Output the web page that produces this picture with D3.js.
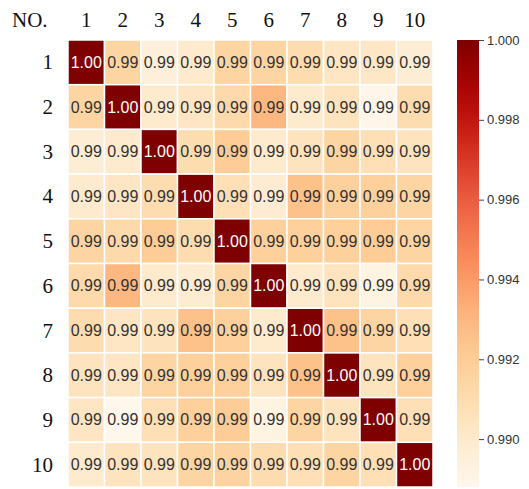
<!DOCTYPE html>
<html>
<head>
<meta charset="utf-8">
<script src="https://cdn.jsdelivr.net/npm/d3@7"></script>
<style>
  body { margin: 0; background: #fff; }
  svg { display: block; }
</style>
</head>
<body>
<script>
const labels = ['1', '2', '3', '4', '5', '6', '7', '8', '9', '10']

// correlation values, row by row
const row1 = [1.0000, 0.9915, 0.9895, 0.9900, 0.9915, 0.9915, 0.9910, 0.9903, 0.9902, 0.9897]
const row2 = [0.9915, 1.0000, 0.9900, 0.9903, 0.9912, 0.9930, 0.9900, 0.9905, 0.9889, 0.9910]
const row3 = [0.9897, 0.9900, 1.0000, 0.9910, 0.9920, 0.9900, 0.9905, 0.9915, 0.9908, 0.9905]
const row4 = [0.9900, 0.9903, 0.9910, 1.0000, 0.9908, 0.9898, 0.9926, 0.9918, 0.9918, 0.9915]
const row5 = [0.9915, 0.9912, 0.9920, 0.9910, 1.0000, 0.9918, 0.9918, 0.9918, 0.9920, 0.9915]
const row6 = [0.9912, 0.9930, 0.9900, 0.9898, 0.9915, 1.0000, 0.9900, 0.9905, 0.9892, 0.9912]
const row7 = [0.9910, 0.9903, 0.9905, 0.9926, 0.9918, 0.9900, 1.0000, 0.9926, 0.9915, 0.9908]
const row8 = [0.9905, 0.9903, 0.9915, 0.9918, 0.9918, 0.9905, 0.9926, 1.0000, 0.9905, 0.9918]
const row9 = [0.9903, 0.9888, 0.9908, 0.9918, 0.9920, 0.9892, 0.9915, 0.9905, 1.0000, 0.9908]
const row10 = [0.9900, 0.9905, 0.9905, 0.9915, 0.9916, 0.9910, 0.9908, 0.9915, 0.9908, 1.0000]
const rows = [row1, row2, row3, row4, row5, row6, row7, row8, row9, row10]

const cbarTicks = [0.990, 0.992, 0.994, 0.996, 0.998, 1.000]

const W = 529, H = 489
const grid = { left: 68, top: 40, right: 433, bottom: 487 }
const cbar = { left: 457, width: 22 }

const cells = rows.flatMap((r, i) => r.map((v, j) => ({ row: labels[i], col: labels[j], v })))
const vmin = d3.min(cells, d => d.v)
const vmax = d3.max(cells, d => d.v)

const color = d3.scaleSequential(d3.interpolateOrRd).domain([vmin, vmax])

const x = d3.scaleBand().domain(labels).range([grid.left, grid.right])
const y = d3.scaleBand().domain(labels).range([grid.top, grid.bottom])

const svg = d3.select('body').append('svg')
  .attr('width', W)
  .attr('height', H)

// cells
svg.append('g')
  .selectAll('rect')
  .data(cells)
  .enter()
  .append('rect')
  .attr('x', d => x(d.col))
  .attr('y', d => y(d.row))
  .attr('width', x.bandwidth())
  .attr('height', y.bandwidth())
  .attr('fill', d => color(d.v))
  .attr('stroke', '#fff')
  .attr('stroke-width', 1.5)

// annotations
svg.append('g')
  .selectAll('text')
  .data(cells)
  .enter()
  .append('text')
  .attr('x', d => x(d.col) + x.bandwidth() / 2)
  .attr('y', d => y(d.row) + y.bandwidth() / 2)
  .attr('text-anchor', 'middle')
  .attr('dominant-baseline', 'central')
  .style('font-family', '"Liberation Sans", Arial, sans-serif')
  .style('font-size', '16px')
  .attr('fill', d => d.v > 0.996 ? '#fff' : '#333')
  .text(d => d.v.toFixed(2))

// axis labels in serif
const serif = '"Liberation Serif", "Times New Roman", serif'

svg.append('g')
  .selectAll('text')
  .data(labels)
  .enter()
  .append('text')
  .attr('x', d => x(d) + x.bandwidth() / 2)
  .attr('y', 27)
  .attr('text-anchor', 'middle')
  .style('font-family', serif)
  .style('font-size', '21px')
  .attr('fill', '#111')
  .text(d => d)

svg.append('g')
  .selectAll('text')
  .data(labels)
  .enter()
  .append('text')
  .attr('x', 53)
  .attr('y', d => y(d) + y.bandwidth() / 2)
  .attr('text-anchor', 'end')
  .attr('dominant-baseline', 'central')
  .style('font-family', serif)
  .style('font-size', '21px')
  .attr('fill', '#111')
  .text(d => d)

svg.append('text')
  .attr('x', 12)
  .attr('y', 27)
  .style('font-family', serif)
  .style('font-size', '21px')
  .attr('fill', '#111')
  .text('NO.')

// colorbar
const cy = d3.scaleLinear().domain([vmin, vmax]).range([grid.bottom, grid.top])

const defs = svg.append('defs')
const grad = defs.append('linearGradient')
  .attr('id', 'cbar')
  .attr('x1', 0).attr('y1', 1)
  .attr('x2', 0).attr('y2', 0)
d3.range(0, 1.0001, 0.05).forEach(t => {
  grad.append('stop')
    .attr('offset', t)
    .attr('stop-color', color(vmin + t * (vmax - vmin)))
})

svg.append('rect')
  .attr('x', cbar.left)
  .attr('y', grid.top)
  .attr('width', cbar.width)
  .attr('height', grid.bottom - grid.top)
  .attr('fill', 'url(#cbar)')

const cax = svg.append('g')
  .attr('transform', 'translate(' + (cbar.left + cbar.width) + ',0)')
  .call(d3.axisRight(cy).tickValues(cbarTicks).tickFormat(d3.format('.3f')).tickSize(5).tickPadding(3))

cax.select('.domain').remove()
cax.selectAll('line').attr('stroke', '#444')
cax.selectAll('text')
  .style('font-family', '"Liberation Sans", Arial, sans-serif')
  .style('font-size', '13px')
  .attr('fill', '#333')
</script>
</body>
</html>
